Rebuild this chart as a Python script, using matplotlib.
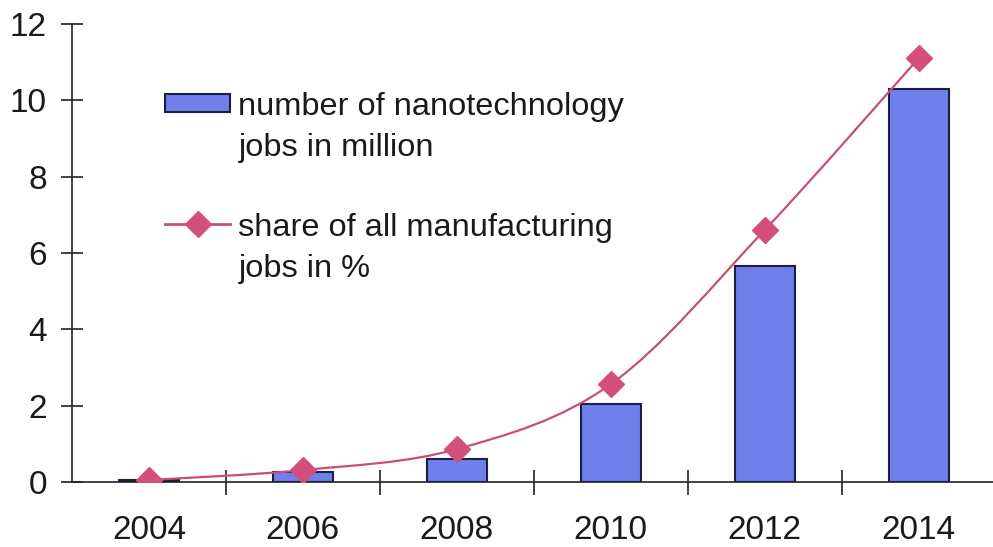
import numpy as np
import matplotlib.pyplot as plt
from matplotlib.path import Path
from matplotlib.patches import PathPatch
from matplotlib.lines import Line2D

plt.rcParams['font.family'] = ['Liberation Sans', 'DejaVu Sans']

years = ['2004', '2006', '2008', '2010', '2012', '2014']
jobs_million = [0.05, 0.25, 0.6, 2.04, 5.65, 10.3]
share_percent = [0.05, 0.31, 0.86, 2.56, 6.6, 11.1]

bar_color = '#6f80ec'
edge_color = '#1c2040'
line_color = '#c8506e'
marker_color = '#d4507a'

fig = plt.figure(figsize=(9.93, 5.47), dpi=100)
ax = fig.add_axes([0.0725, 0.119, 0.93, 0.837])

x = np.arange(len(years))
bars = ax.bar(x, jobs_million, width=0.39, color=bar_color,
              edgecolor=edge_color, linewidth=1.5, zorder=2)

# smooth line through the points (Catmull-Rom as cubic Bezier)
pts = np.column_stack([x, share_percent]).astype(float)
ext = np.vstack([pts[0], pts, pts[-1]])
verts = [tuple(pts[0])]
codes = [Path.MOVETO]
for i in range(len(pts) - 1):
    p0, p1, p2, p3 = ext[i], ext[i + 1], ext[i + 2], ext[i + 3]
    c1 = p1 + (p2 - p0) / 6
    c2 = p2 - (p3 - p1) / 6
    verts += [tuple(c1), tuple(c2), tuple(p2)]
    codes += [Path.CURVE4] * 3
curve = PathPatch(Path(verts, codes), facecolor='none', edgecolor=line_color,
                  linewidth=1.6, zorder=3)
ax.add_patch(curve)
ax.plot(x, share_percent, linestyle='none', marker='D', markersize=13,
        color=marker_color, zorder=4)

ax.set_xlim(-0.5, 5.5)
ax.set_ylim(0, 12)
ax.set_yticks(range(0, 13, 2))
ax.set_xticks(x)
ax.set_xticklabels(years)
ax.set_xticks(x[:-1] + 0.5, minor=True)

for s in ['top', 'right']:
    ax.spines[s].set_visible(False)
for s in ['left', 'bottom']:
    ax.spines[s].set_color('#222222')
    ax.spines[s].set_linewidth(1.2)

ax.tick_params(axis='y', direction='inout', length=16, width=1.2,
               color='#222222', labelsize=24, pad=10, labelcolor='#1a1a1a')
ax.tick_params(axis='x', which='major', length=0, labelsize=24, pad=24,
               labelcolor='#1a1a1a')
ax.tick_params(axis='x', which='minor', direction='inout', length=18,
               width=1.2, color='#222222')

blank = Line2D([], [], linestyle='none')
leg_kw = dict(loc='upper left', bbox_transform=fig.transFigure, frameon=False,
              fontsize=23.4, handlelength=2.0, handletextpad=0.25,
              labelspacing=0.36, borderpad=0, labelcolor='#1a1a1a')
leg1 = ax.legend([bars, blank], ['number of nanotechnology', 'jobs in million'],
                 bbox_to_anchor=(0.150, 0.862), handleheight=0.5, **leg_kw)
ax.add_artist(leg1)
share_handle = Line2D([], [], color=line_color, linewidth=2, marker='D',
                      markersize=13, markerfacecolor=marker_color,
                      markeredgecolor=marker_color)
ax.legend([share_handle, blank], ['share of all manufacturing', 'jobs in %'],
          bbox_to_anchor=(0.150, 0.641), **leg_kw)

fig.savefig('out.png', dpi=100)
